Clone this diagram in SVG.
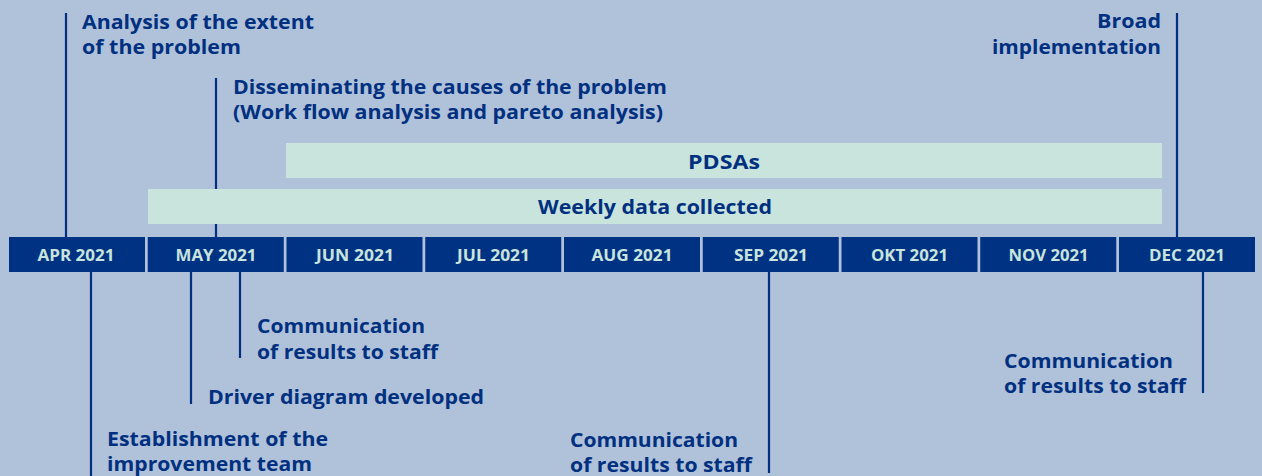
<svg xmlns="http://www.w3.org/2000/svg" width="1262" height="476" viewBox="0 0 1262 476">
<style>
.lbl{font-family:"Open Sans","Liberation Sans",Arial,sans-serif;font-weight:bold;font-size:20px;fill:#00307f}
.mon{font-family:"Open Sans","Liberation Sans",Arial,sans-serif;font-weight:bold;font-size:15.5px;fill:#c8e4dc;text-anchor:middle}
.box{fill:#003283}
.bar{fill:#c8e4dc}
.ln{stroke:#00307f;stroke-width:2.2;fill:none}
.barTxt{font-family:"Open Sans","Liberation Sans",Arial,sans-serif;font-weight:bold;font-size:19px;fill:#00307f;text-anchor:middle}
</style>
<rect width="1262" height="476" fill="#b0c1da"/>
<g id="connectors">
<line class="ln" x1="66" y1="13" x2="66" y2="237"/>
<line class="ln" x1="216" y1="78" x2="216" y2="237"/>
<line class="ln" x1="1177" y1="13" x2="1177" y2="237"/>
<line class="ln" x1="91" y1="272" x2="91" y2="476"/>
<line class="ln" x1="191" y1="272" x2="191" y2="404"/>
<line class="ln" x1="240" y1="272" x2="240" y2="358"/>
<line class="ln" x1="769" y1="272" x2="769" y2="473"/>
<line class="ln" x1="1203" y1="272" x2="1203" y2="393"/>
</g>
<g id="bar-pdsas"><rect class="bar" x="286" y="143" width="876" height="35"/><text class="barTxt" x="724" y="169" textLength="72" lengthAdjust="spacingAndGlyphs">PDSAs</text></g>
<g id="bar-weekly"><rect class="bar" x="148" y="189" width="1014" height="35"/><text class="barTxt" x="655" y="214" textLength="234" lengthAdjust="spacingAndGlyphs">Weekly data collected</text></g>
<g id="months">
<g id="m-apr"><rect class="box" x="9" y="237" width="136" height="35"/><text class="mon" x="76" y="261" textLength="77" lengthAdjust="spacingAndGlyphs">APR 2021</text></g>
<g id="m-may"><rect class="box" x="147.75" y="237" width="136" height="35"/><text class="mon" x="216" y="261" textLength="81" lengthAdjust="spacingAndGlyphs">MAY 2021</text></g>
<g id="m-jun"><rect class="box" x="286.5" y="237" width="136" height="35"/><text class="mon" x="355" y="261" textLength="78" lengthAdjust="spacingAndGlyphs">JUN 2021</text></g>
<g id="m-jul"><rect class="box" x="425.25" y="237" width="136" height="35"/><text class="mon" x="493.5" y="261" textLength="73" lengthAdjust="spacingAndGlyphs">JUL 2021</text></g>
<g id="m-aug"><rect class="box" x="564" y="237" width="136" height="35"/><text class="mon" x="632" y="261" textLength="81" lengthAdjust="spacingAndGlyphs">AUG 2021</text></g>
<g id="m-sep"><rect class="box" x="702.75" y="237" width="136" height="35"/><text class="mon" x="771" y="261" textLength="74" lengthAdjust="spacingAndGlyphs">SEP 2021</text></g>
<g id="m-okt"><rect class="box" x="841.5" y="237" width="136" height="35"/><text class="mon" x="909.5" y="261" textLength="77" lengthAdjust="spacingAndGlyphs">OKT 2021</text></g>
<g id="m-nov"><rect class="box" x="980.25" y="237" width="136" height="35"/><text class="mon" x="1048.5" y="261" textLength="80" lengthAdjust="spacingAndGlyphs">NOV 2021</text></g>
<g id="m-dec"><rect class="box" x="1119" y="237" width="136" height="35"/><text class="mon" x="1187" y="261" textLength="76" lengthAdjust="spacingAndGlyphs">DEC 2021</text></g>
</g>
<g id="e-analysis"><text class="lbl" x="82" y="29" textLength="232" lengthAdjust="spacingAndGlyphs">Analysis of the extent</text><text class="lbl" x="82" y="54" textLength="159" lengthAdjust="spacingAndGlyphs">of the problem</text></g>
<g id="e-disseminating"><text class="lbl" x="233" y="94" textLength="434" lengthAdjust="spacingAndGlyphs">Disseminating the causes of the problem</text><text class="lbl" x="233" y="119" textLength="430" lengthAdjust="spacingAndGlyphs">(Work flow analysis and pareto analysis)</text></g>
<g id="e-broad"><text class="lbl" x="1161" y="28" text-anchor="end" textLength="64" lengthAdjust="spacingAndGlyphs">Broad</text><text class="lbl" x="1161" y="54" text-anchor="end" textLength="169" lengthAdjust="spacingAndGlyphs">implementation</text></g>
<g id="e-comm-may"><text class="lbl" x="257" y="333" textLength="168" lengthAdjust="spacingAndGlyphs">Communication</text><text class="lbl" x="257" y="359" textLength="181" lengthAdjust="spacingAndGlyphs">of results to staff</text></g>
<g id="e-driver"><text class="lbl" x="208" y="404" textLength="276" lengthAdjust="spacingAndGlyphs">Driver diagram developed</text></g>
<g id="e-establish"><text class="lbl" x="107" y="446" textLength="221" lengthAdjust="spacingAndGlyphs">Establishment of the</text><text class="lbl" x="107" y="471" textLength="205" lengthAdjust="spacingAndGlyphs">improvement team</text></g>
<g id="e-comm-sep"><text class="lbl" x="570" y="447" textLength="168" lengthAdjust="spacingAndGlyphs">Communication</text><text class="lbl" x="570" y="472" textLength="182" lengthAdjust="spacingAndGlyphs">of results to staff</text></g>
<g id="e-comm-dec"><text class="lbl" x="1004" y="368" textLength="169" lengthAdjust="spacingAndGlyphs">Communication</text><text class="lbl" x="1004" y="393" textLength="182" lengthAdjust="spacingAndGlyphs">of results to staff</text></g>
</svg>
